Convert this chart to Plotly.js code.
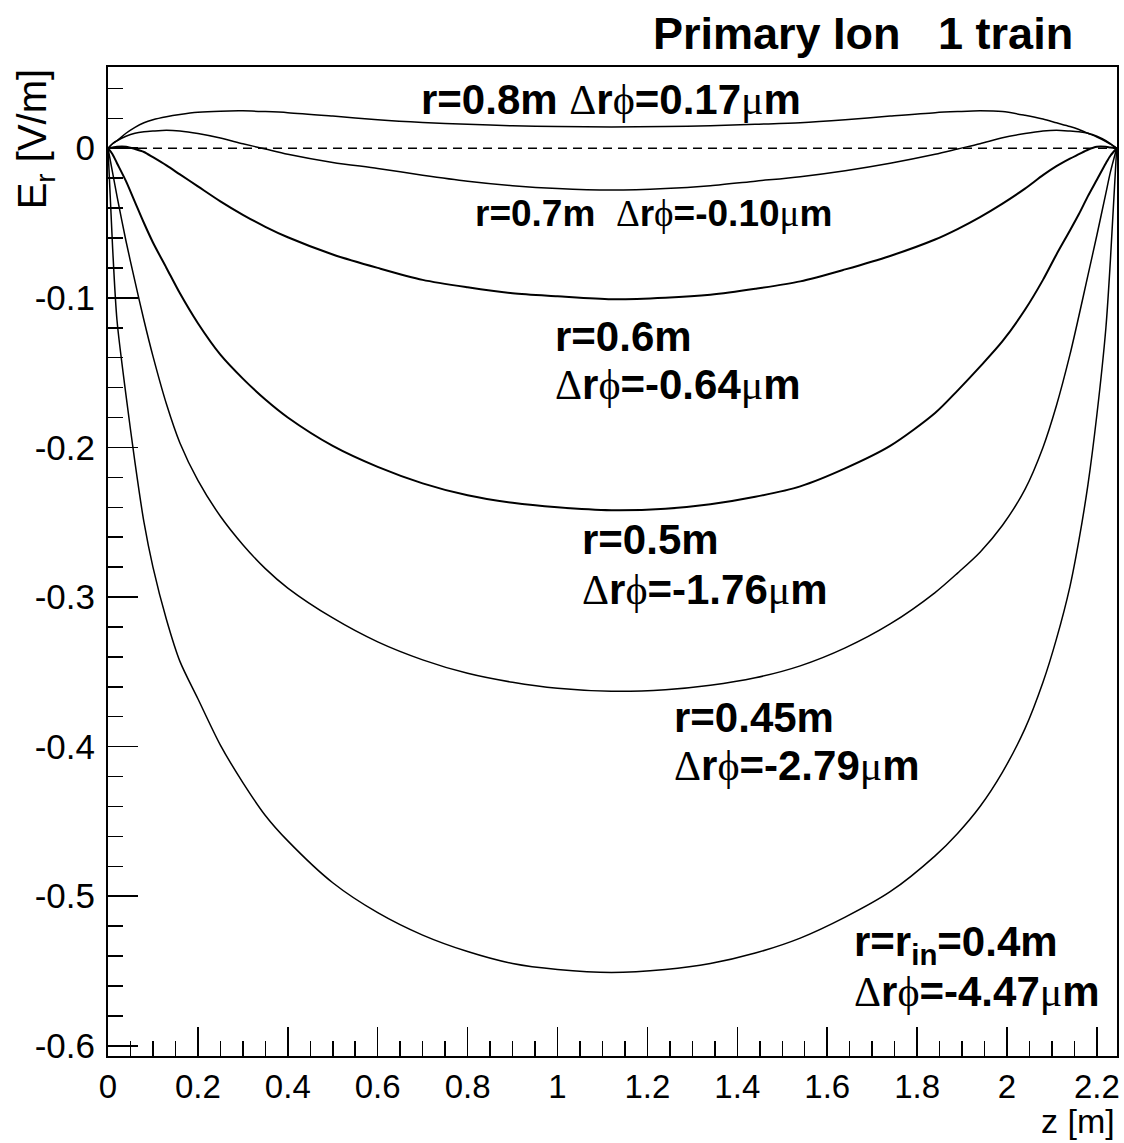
<!DOCTYPE html>
<html>
<head>
<meta charset="utf-8">
<script src="https://cdn.plot.ly/plotly-3.0.1.min.js"></script>
<style>html,body{margin:0;padding:0;background:#fff;}#chart{width:1124px;height:1143px;}</style>
</head>
<body>
<div id="chart"></div>
<script>
// z positions (m)
const z = [0, 0.01, 0.02, 0.04, 0.06, 0.08, 0.10, 0.13, 0.16, 0.20, 0.25, 0.30, 0.35, 0.40, 0.50, 0.60, 0.70, 0.80, 0.90, 1.00, 1.12, 1.24, 1.34, 1.44, 1.54, 1.64, 1.74, 1.84, 1.89, 1.94, 1.99, 2.04, 2.08, 2.11, 2.14, 2.16, 2.18, 2.20, 2.22, 2.23, 2.244];

// E_r (V/m) for each radius
const Er80 = [0, 0.003, 0.005, 0.010, 0.014, 0.017, 0.019, 0.021, 0.0225, 0.024, 0.0248, 0.025, 0.0245, 0.0238, 0.0215, 0.019, 0.0172, 0.016, 0.015, 0.0145, 0.0142, 0.0145, 0.015, 0.016, 0.017, 0.019, 0.0215, 0.0238, 0.0245, 0.025, 0.0245, 0.022, 0.0195, 0.017, 0.0145, 0.0125, 0.010, 0.0075, 0.0045, 0.0027, 0];
const Er70 = [0, 0.003, 0.005, 0.008, 0.010, 0.011, 0.0115, 0.012, 0.0115, 0.0098, 0.0068, 0.003, -0.0005, -0.004, -0.0095, -0.0135, -0.018, -0.022, -0.025, -0.027, -0.028, -0.027, -0.025, -0.022, -0.019, -0.015, -0.010, -0.004, -0.0005, 0.003, 0.007, 0.0098, 0.0115, 0.012, 0.0115, 0.011, 0.010, 0.008, 0.005, 0.003, 0];
const Er60 = [0, 0.0005, 0.001, 0.001, -0.0005, -0.0025, -0.006, -0.0115, -0.0175, -0.0255, -0.0355, -0.0445, -0.0525, -0.0595, -0.071, -0.080, -0.088, -0.093, -0.097, -0.099, -0.101, -0.100, -0.098, -0.094, -0.089, -0.081, -0.072, -0.061, -0.054, -0.046, -0.037, -0.027, -0.018, -0.012, -0.007, -0.004, -0.001, 0.001, 0.001, 0.0005, 0];
const Er50 = [0, -0.004, -0.010, -0.022, -0.036, -0.050, -0.063, -0.080, -0.097, -0.117, -0.138, -0.154, -0.168, -0.180, -0.199, -0.213, -0.224, -0.232, -0.237, -0.240, -0.242, -0.241, -0.238, -0.233, -0.226, -0.214, -0.199, -0.177, -0.162, -0.146, -0.129, -0.108, -0.088, -0.071, -0.055, -0.044, -0.032, -0.021, -0.010, -0.005, 0];
const Er45 = [0, -0.016, -0.032, -0.062, -0.089, -0.115, -0.139, -0.171, -0.197, -0.222, -0.246, -0.265, -0.281, -0.294, -0.314, -0.330, -0.342, -0.351, -0.357, -0.361, -0.363, -0.362, -0.359, -0.354, -0.346, -0.334, -0.318, -0.297, -0.284, -0.270, -0.252, -0.228, -0.200, -0.172, -0.138, -0.112, -0.085, -0.058, -0.030, -0.016, 0];
const Er40 = [0, -0.065, -0.115, -0.165, -0.210, -0.250, -0.280, -0.315, -0.343, -0.368, -0.399, -0.424, -0.446, -0.463, -0.491, -0.511, -0.526, -0.537, -0.545, -0.549, -0.551, -0.549, -0.545, -0.538, -0.528, -0.514, -0.497, -0.473, -0.458, -0.440, -0.417, -0.388, -0.357, -0.328, -0.293, -0.262, -0.225, -0.178, -0.120, -0.075, 0];

// reference zero line
const zeroZ = [0, 2.244];
const zeroE = [0, 0];

// tick labels
const xTickVals = [0, 0.2, 0.4, 0.6, 0.8, 1, 1.2, 1.4, 1.6, 1.8, 2, 2.2];
const xTickText = ["0", "0.2", "0.4", "0.6", "0.8", "1", "1.2", "1.4", "1.6", "1.8", "2", "2.2"];
const yTickVals = [0, -0.1, -0.2, -0.3, -0.4, -0.5, -0.6];
const yTickText = ["0", "-0.1", "-0.2", "-0.3", "-0.4", "-0.5", "-0.6"];

const FONT = "Liberation Sans, Arial, Helvetica, sans-serif";
const G = (c) => "<span style=\"font-family:'Liberation Serif','DejaVu Serif',serif;font-weight:normal\">" + c + "</span>";
const D = G("Δ"), P = G("ϕ"), M = G("μ");

function curve(y, w) {
  return {x: z, y: y, type: "scatter", mode: "lines", line: {color: "#000", width: w, shape: "spline", smoothing: 0.8}, hoverinfo: "skip", showlegend: false};
}

const traces = [
  {x: zeroZ, y: zeroE, type: "scatter", mode: "lines", line: {color: "#000", width: 1.3, dash: "9px,6px"}, hoverinfo: "skip", showlegend: false},
  curve(Er80, 1.5),
  curve(Er70, 1.5),
  curve(Er60, 2),
  curve(Er50, 2),
  curve(Er45, 1.5),
  curve(Er40, 1.5)
];

function lab(text, x, y, size) {
  return {text: text, x: x, y: y, xref: "x", yref: "y", xanchor: "left", yanchor: "middle", showarrow: false, font: {family: FONT, size: size || 42, color: "#000"}};
}

const annotations = [
  lab("<b>r=0.8m </b>" + D + "<b>r</b>" + P + "<b>=0.17</b>" + M + "<b>m</b>", 0.692, 0.0323, 42),
  lab("<b>r=0.7m  </b>" + D + "<b>r</b>" + P + "<b>=-0.10</b>" + M + "<b>m</b>", 0.812, -0.0433, 37),
  lab("<b>r=0.6m</b>", 0.991, -0.1261),
  lab(D + "<b>r</b>" + P + "<b>=-0.64</b>" + M + "<b>m</b>", 0.991, -0.1576),
  lab("<b>r=0.5m</b>", 1.051, -0.2618),
  lab(D + "<b>r</b>" + P + "<b>=-1.76</b>" + M + "<b>m</b>", 1.051, -0.2952),
  lab("<b>r=0.45m</b>", 1.255, -0.3808),
  lab(D + "<b>r</b>" + P + "<b>=-2.79</b>" + M + "<b>m</b>", 1.255, -0.4129),
  lab("<b>r=r<sub>in</sub>=0.4m</b>", 1.656, -0.5325),
  lab(D + "<b>r</b>" + P + "<b>=-4.47</b>" + M + "<b>m</b>", 1.656, -0.5639),
  {text: "<b>Primary Ion\u00a0\u00a0\u00a01 train</b>", xref: "paper", yref: "paper", x: 0.958, y: 1.034, xanchor: "right", yanchor: "middle", showarrow: false, font: {family: FONT, size: 45, color: "#000"}},
  {text: "z [m]", xref: "paper", yref: "paper", x: 1.0, y: -0.066, xanchor: "right", yanchor: "middle", showarrow: false, font: {family: FONT, size: 34, color: "#000"}},
  {text: "E<sub>r</sub> [V/m]", xref: "paper", yref: "paper", x: -0.072, y: 1.0, xanchor: "center", yanchor: "top", textangle: -90, showarrow: false, font: {family: FONT, size: 40, color: "#000"}}
];

const layout = {
  width: 1124, height: 1143,
  margin: {l: 108, r: 7, t: 67, b: 87, pad: 0},
  paper_bgcolor: "#fff", plot_bgcolor: "#fff",
  showlegend: false,
  font: {family: FONT, color: "#000"},
  xaxis: {
    range: [0, 2.2447], showgrid: false, zeroline: false,
    showline: true, mirror: true, linecolor: "#000", linewidth: 2,
    ticks: "inside", ticklen: 29, tickwidth: 1.5, tickcolor: "#000",
    tickmode: "array", tickvals: xTickVals, ticktext: xTickText,
    tickfont: {family: FONT, size: 33, color: "#000"}, ticklabelstandoff: 0,
    minor: {dtick: 0.05, tick0: 0, ticks: "inside", ticklen: 15, tickwidth: 1.5, tickcolor: "#000", showgrid: false}
  },
  yaxis: {
    range: [-0.6068, 0.0543], showgrid: false, zeroline: false,
    showline: true, mirror: true, linecolor: "#000", linewidth: 2,
    ticks: "inside", ticklen: 30, tickwidth: 1.5, tickcolor: "#000",
    tickmode: "array", tickvals: yTickVals, ticktext: yTickText,
    tickfont: {family: FONT, size: 35, color: "#000"}, ticklabelstandoff: 4,
    minor: {dtick: 0.02, tick0: 0, ticks: "inside", ticklen: 15, tickwidth: 1.5, tickcolor: "#000", showgrid: false}
  },
  annotations: annotations
};

Plotly.newPlot("chart", traces, layout, {displayModeBar: false, staticPlot: true});
</script>
</body>
</html>
